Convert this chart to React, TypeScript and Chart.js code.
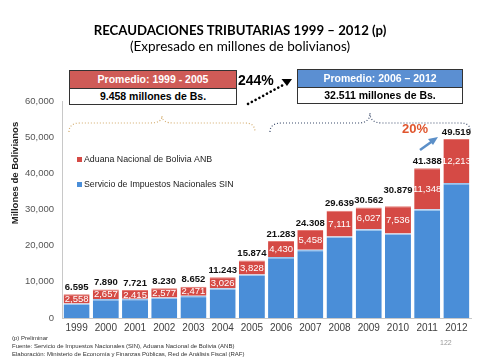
import React, { useEffect, useRef } from "react";
import { Chart, registerables } from "chart.js";

Chart.register(...registerables);

const years = ["1999","2000","2001","2002","2003","2004","2005","2006","2007","2008","2009","2010","2011","2012"];
const anbValues = [2558, 2657, 2415, 2577, 2471, 3026, 3828, 4430, 5458, 7111, 6027, 7536, 11348, 12213];
const totalValues = [6595, 7890, 7721, 8230, 8652, 11243, 15874, 21283, 24308, 29639, 30562, 30879, 41388, 49519];
const sinValues = [4037, 5233, 5306, 5653, 6181, 8217, 12046, 16853, 18850, 22528, 24535, 23343, 30040, 37306];
const yTicks = [0, 10000, 20000, 30000, 40000, 50000, 60000];
const seriesNames = ["Servicio de Impuestos Nacionales SIN", "Aduana Nacional de Bolivia ANB"];

const BLUE = "#4a8ed8";
const RED = "#d54a45";

const fmtDot = (v: number) => {
  const s = String(v);
  return s.length > 3 ? s.slice(0, s.length - 3) + "." + s.slice(-3) : s;
};
const fmtComma = (v: number) => {
  const s = String(v);
  return s.length > 3 ? s.slice(0, s.length - 3) + "," + s.slice(-3) : s;
};

const labelPlugin = {
  id: "stackLabels",
  afterDatasetsDraw(chart: any) {
    const ctx = chart.ctx;
    const meta = chart.getDatasetMeta(1);
    ctx.save();
    meta.data.forEach((bar: any, i: number) => {
      const p = bar.getProps(["x", "y", "base"], true);
      ctx.textAlign = "center";
      ctx.textBaseline = "middle";
      ctx.fillStyle = "#ffffff";
      ctx.font = "9.5px Arial, 'Liberation Sans', sans-serif";
      ctx.fillText(fmtComma(anbValues[i]), p.x, (p.y + p.base) / 2 + 0.5);
      ctx.fillStyle = "#111111";
      ctx.font = "bold 9.5px Arial, 'Liberation Sans', sans-serif";
      const lift = i === 11 ? 16 : 7;
      ctx.fillText(fmtDot(totalValues[i]), p.x, p.y - lift);
    });
    // legend inside plot
    const items = [
      { name: seriesNames[1], color: RED, y: 160 },
      { name: seriesNames[0], color: BLUE, y: 185 },
    ];
    ctx.textAlign = "left";
    ctx.textBaseline = "middle";
    ctx.font = "8.8px Arial, 'Liberation Sans', sans-serif";
    items.forEach((it) => {
      ctx.fillStyle = it.color;
      ctx.fillRect(77, it.y - 3, 5, 5);
      ctx.fillStyle = "#222";
      ctx.fillText(it.name, 84, it.y);
    });
    ctx.restore();
  },
};

function BarChart() {
  const ref = useRef<HTMLCanvasElement>(null);
  useEffect(() => {
    if (!ref.current) return;
    const chart = new Chart(ref.current, {
      type: "bar",
      data: {
        labels: years,
        datasets: [
          {
            label: seriesNames[0],
            data: sinValues,
            backgroundColor: BLUE,
            borderColor: "#9cc6f0",
            borderWidth: { top: 1.5, left: 0, right: 0, bottom: 0 } as any,
            borderSkipped: false,
            barPercentage: 0.89,
            categoryPercentage: 1,
          },
          {
            label: seriesNames[1],
            data: anbValues,
            backgroundColor: RED,
            borderColor: "#e57a74",
            borderWidth: { top: 1, left: 0, right: 0, bottom: 0 } as any,
            borderSkipped: false,
            barPercentage: 0.89,
            categoryPercentage: 1,
          },
        ],
      },
      options: {
        responsive: false,
        animation: false,
        layout: { padding: { top: 101, right: 9, left: 0, bottom: 0 } },
        plugins: { legend: { display: false }, tooltip: { enabled: false }, title: { display: false } },
        scales: {
          x: {
            stacked: true,
            grid: { display: false, drawTicks: false },
            border: { color: "#c8c8c8" },
            ticks: { color: "#404040", font: { size: 10, family: "Arial, 'Liberation Sans', sans-serif" }, padding: 4 },
            afterFit: (s: any) => { s.height = 42; },
          },
          y: {
            stacked: true,
            min: 0,
            max: 60000,
            afterBuildTicks: (s: any) => { s.ticks = yTicks.map((v) => ({ value: v })); },
            grid: { display: false, drawTicks: false },
            border: { color: "#c8c8c8" },
            ticks: {
              color: "#555",
              font: { size: 9.5, family: "Arial, 'Liberation Sans', sans-serif" },
              padding: 8,
              callback: (v: any) => Number(v).toLocaleString("en-US"),
            },
            afterFit: (s: any) => { s.width = 62; },
          },
        },
      },
      plugins: [labelPlugin],
    });
    return () => chart.destroy();
  }, []);
  return <canvas ref={ref} width={480} height={360} style={{ position: "absolute", left: 0, top: 0 }} />;
}

const boxFont = "Arial, 'Liberation Sans', sans-serif";

export default function App() {
  return (
    <div style={{ position: "fixed", left: 0, top: 0, width: 480, height: 360, background: "#fff", overflow: "hidden", fontFamily: boxFont }}>
      <BarChart />
      <div style={{ position: "absolute", left: 0, width: 480, top: 21, textAlign: "center", fontFamily: "Lato, sans-serif", fontWeight: 700, fontSize: 13.2, color: "#000", lineHeight: "18px" }}>
        RECAUDACIONES TRIBUTARIAS 1999 – 2012 (p)
      </div>
      <div style={{ position: "absolute", left: 0, width: 480, top: 37, textAlign: "center", fontFamily: "Lato, sans-serif", fontSize: 13.5, color: "#000", lineHeight: "18px" }}>
        (Expresado en millones de bolivianos)
      </div>
      {/* Left box */}
      <div style={{ position: "absolute", left: 69, top: 70, width: 168, height: 35, border: "1px solid #333", boxSizing: "border-box", background: "#fff" }}>
        <div style={{ height: 17, background: "#cf5b57", color: "#fff", fontWeight: 700, fontSize: 10.5, textAlign: "center", lineHeight: "17px", borderBottom: "1px solid #333" }}>Promedio: 1999 - 2005</div>
        <div style={{ color: "#000", fontWeight: 700, fontSize: 10.5, textAlign: "center", lineHeight: "15px" }}>9.458 millones de Bs.</div>
      </div>
      {/* Right box */}
      <div style={{ position: "absolute", left: 297, top: 69, width: 166, height: 35, border: "1px solid #333", boxSizing: "border-box", background: "#fff" }}>
        <div style={{ height: 17, background: "#5b8fd2", color: "#fff", fontWeight: 700, fontSize: 10.5, textAlign: "center", lineHeight: "17px", borderBottom: "1px solid #333" }}>Promedio: 2006 – 2012</div>
        <div style={{ color: "#000", fontWeight: 700, fontSize: 10.5, textAlign: "center", lineHeight: "15px" }}>32.511 millones de Bs.</div>
      </div>
      <div style={{ position: "absolute", left: 238, top: 71, fontWeight: 700, fontSize: 14, color: "#000", lineHeight: "18px" }}>244%</div>
      <div style={{ position: "absolute", left: 402, top: 120, fontWeight: 700, fontSize: 13, color: "#e0552d", lineHeight: "18px" }}>20%</div>
      <svg width={480} height={360} style={{ position: "absolute", left: 0, top: 0, pointerEvents: "none" }}>
        <line x1={248} y1={104} x2={283} y2={85} stroke="#000" strokeWidth={2.6} strokeDasharray="0.1 4.2" strokeLinecap="round" />
        <polygon points="281.5,79 292,79 287,86" fill="#000" />
        <path d="M69,132 Q69,123 80,123 L150,123 Q162,123 162,116 Q162,123 174,123 L245,123 Q255,123 255,132" fill="none" stroke="#d2aa6a" strokeWidth={1.2} strokeDasharray="1 2" />
        <path d="M270,132 Q270,123 282,123 L358,123 Q370,123 370,113 Q370,123 382,123 L460,123 Q470,123 470,130" fill="none" stroke="#3a4a6a" strokeWidth={1.2} strokeDasharray="1 2" />
        <line x1={420} y1={150} x2={434} y2={140} stroke="#5b8fc8" strokeWidth={2.5} />
        <polygon points="438,137 428,139 433,145" fill="#5b8fc8" />
      </svg>
      <div style={{ position: "absolute", left: 15, top: 173, width: 0, height: 0 }}>
        <div style={{ position: "absolute", left: -70, top: -7, width: 140, textAlign: "center", transform: "rotate(-90deg)", fontWeight: 700, fontSize: 9.5, color: "#222", lineHeight: "14px", whiteSpace: "nowrap" }}>
          Millones de Bolivianos
        </div>
      </div>
      <div style={{ position: "absolute", left: 12, top: 334, fontSize: 6, lineHeight: "8px", color: "#333", whiteSpace: "nowrap" }}>
        <div>(p) Preliminar</div>
        <div>Fuente: Servicio de Impuestos Nacionales (SIN), Aduana Nacional de Bolivia (ANB)</div>
        <div>Elaboración: Ministerio de Economía y Finanzas Públicas, Red de Análisis Fiscal (RAF)</div>
      </div>
      <div style={{ position: "absolute", left: 440, top: 338, fontSize: 7, color: "#999", lineHeight: "10px" }}>122</div>
    </div>
  );
}
